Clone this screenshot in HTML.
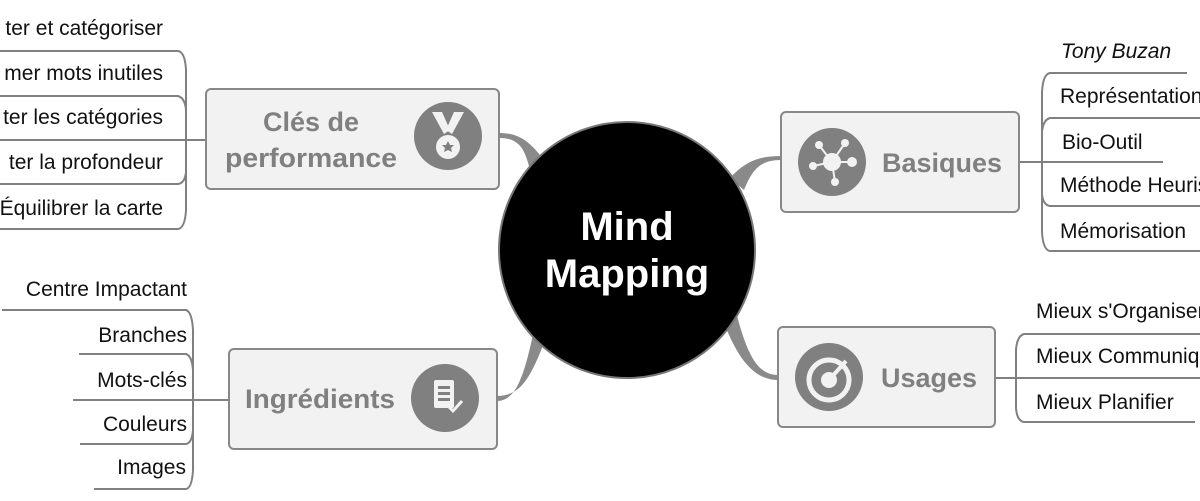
<!DOCTYPE html>
<html><head><meta charset="utf-8"><style>
html,body{margin:0;padding:0;background:#fff;width:1200px;height:501px;overflow:hidden}
svg{display:block}
.l{font-family:"Liberation Sans",sans-serif;font-size:21px;fill:#111}
.t{font-family:"Liberation Sans",sans-serif;font-size:27px;font-weight:bold;fill:#808080}
</style></head><body>
<svg width="1200" height="501" viewBox="0 0 1200 501">
<g fill="#8a8a8a">
<path d="M499,138 C520,138 525,150 530,170 L544,160 C530,142 520,133 499,133 Z"/>
<path d="M781,160 C760,160 752,170 744,190 L730,178 C745,162 758,156 781,156 Z"/>
<path d="M778,375 C755,375 745,350 732,296 L720,312 C735,355 752,380 778,380 Z"/>
<path d="M497,396 C522,396 532,375 547,335 L534,330 C525,372 517,401 497,401 Z"/>
</g>
<circle cx="627" cy="250" r="128" fill="#000" stroke="#777" stroke-width="2"/>
<text x="627" y="240" text-anchor="middle" font-family="Liberation Sans,sans-serif" font-weight="bold" font-size="40" fill="#fff">Mind</text>
<text x="627" y="287" text-anchor="middle" font-family="Liberation Sans,sans-serif" font-weight="bold" font-size="40" fill="#fff">Mapping</text>

<g fill="none" stroke="#808080" stroke-width="2">
<path d="M0,51 H178 Q185,52 186,70 V210 Q185,228 178,229 H0"/>
<path d="M0,96 H178 Q185,98 186,110 V172 Q185,183 178,184 H0"/>
<path d="M0,140 H206"/>
<path d="M2,310 H186 Q192,312 193,330 V470 Q192,488 186,489 H94"/>
<path d="M79,354 H186 Q192,356 193,370 V430 Q192,443 186,444 H80"/>
<path d="M73,400 H229"/>
<path d="M1187,73 H1050 Q1043,74 1042,92 V232 Q1043,250 1050,251 H1200"/>
<path d="M1200,118 H1050 Q1043,120 1042,132 V194 Q1043,205 1050,206 H1200"/>
<path d="M1019,162 H1163"/>
<path d="M1200,334 H1024 Q1017,336 1016,350 V408 Q1017,421 1024,422 H1195"/>
<path d="M995,378 H1200"/>
</g>

<g stroke="#888" stroke-width="2" fill="#f2f2f2">
<rect x="206" y="89" width="293" height="100" rx="5"/>
<rect x="781" y="112" width="238" height="100" rx="5"/>
<rect x="778" y="327" width="217" height="100" rx="5"/>
<rect x="229" y="349" width="268" height="100" rx="5"/>
</g>
<g fill="#808080">
<circle cx="448" cy="136" r="34"/><circle cx="832" cy="162" r="34"/>
<circle cx="829" cy="377" r="34"/><circle cx="445" cy="398" r="34"/>
</g>
<g fill="#f2f2f2">
<path d="M432,112 L442,112 L450,130 L444,134 Z M454,112 L464,112 L452,134 L446,130 Z"/>
<circle cx="448" cy="147" r="12"/>
<circle cx="832" cy="162" r="9"/>
<circle cx="819" cy="145" r="4"/><circle cx="845" cy="143" r="4"/><circle cx="813" cy="166" r="4"/><circle cx="852" cy="162" r="5"/><circle cx="835" cy="182" r="4"/>
<rect x="434" y="380" width="20" height="28" rx="2"/>
</g>
<path d="M448,141 l2,4 4,0 -3,3 1,4 -4,-2 -4,2 1,-4 -3,-3 4,0z" fill="#808080"/>
<g stroke="#f2f2f2" stroke-width="2"><path d="M832,162 L819,145 M832,162 L845,143 M832,162 L813,166 M832,162 L852,162 M832,162 L835,182"/></g>
<circle cx="829" cy="380" r="20" fill="none" stroke="#f2f2f2" stroke-width="5"/>
<circle cx="829" cy="380" r="8" fill="#f2f2f2"/>
<path d="M829,380 L846,361" stroke="#f2f2f2" stroke-width="4"/>
<g fill="#808080"><rect x="438" y="386" width="12" height="3"/><rect x="438" y="392" width="12" height="3"/><rect x="438" y="398" width="12" height="3"/></g>
<path d="M448,406 l5,5 9,-10" stroke="#f2f2f2" stroke-width="3" fill="none"/>

<text class="t" x="311" y="131" text-anchor="middle">Clés de</text>
<text class="t" x="311" y="167" text-anchor="middle" textLength="172" lengthAdjust="spacingAndGlyphs">performance</text>
<text class="t" x="942" y="172" text-anchor="middle">Basiques</text>
<text class="t" x="929" y="387" text-anchor="middle">Usages</text>
<text class="t" x="320" y="408" text-anchor="middle" textLength="150" lengthAdjust="spacingAndGlyphs">Ingrédients</text>

<g class="l" text-anchor="end">
<text x="163" y="35">ter et catégoriser</text>
<text x="163" y="80">mer mots inutiles</text>
<text x="163" y="124">ter les catégories</text>
<text x="163" y="169">ter la profondeur</text>
<text x="163" y="215">Équilibrer la carte</text>
<text x="187" y="296">Centre Impactant</text>
<text x="187" y="342">Branches</text>
<text x="187" y="387">Mots-clés</text>
<text x="187" y="431">Couleurs</text>
<text x="186" y="474">Images</text>
</g>
<g class="l">
<text x="1061" y="58" font-style="italic">Tony Buzan</text>
<text x="1060" y="103">Représentation</text>
<text x="1062" y="149">Bio-Outil</text>
<text x="1060" y="192">Méthode Heuristique</text>
<text x="1060" y="238">Mémorisation</text>
<text x="1036" y="318">Mieux s'Organiser</text>
<text x="1036" y="363">Mieux Communiquer</text>
<text x="1036" y="409">Mieux Planifier</text>
</g>
</svg>
</body></html>
